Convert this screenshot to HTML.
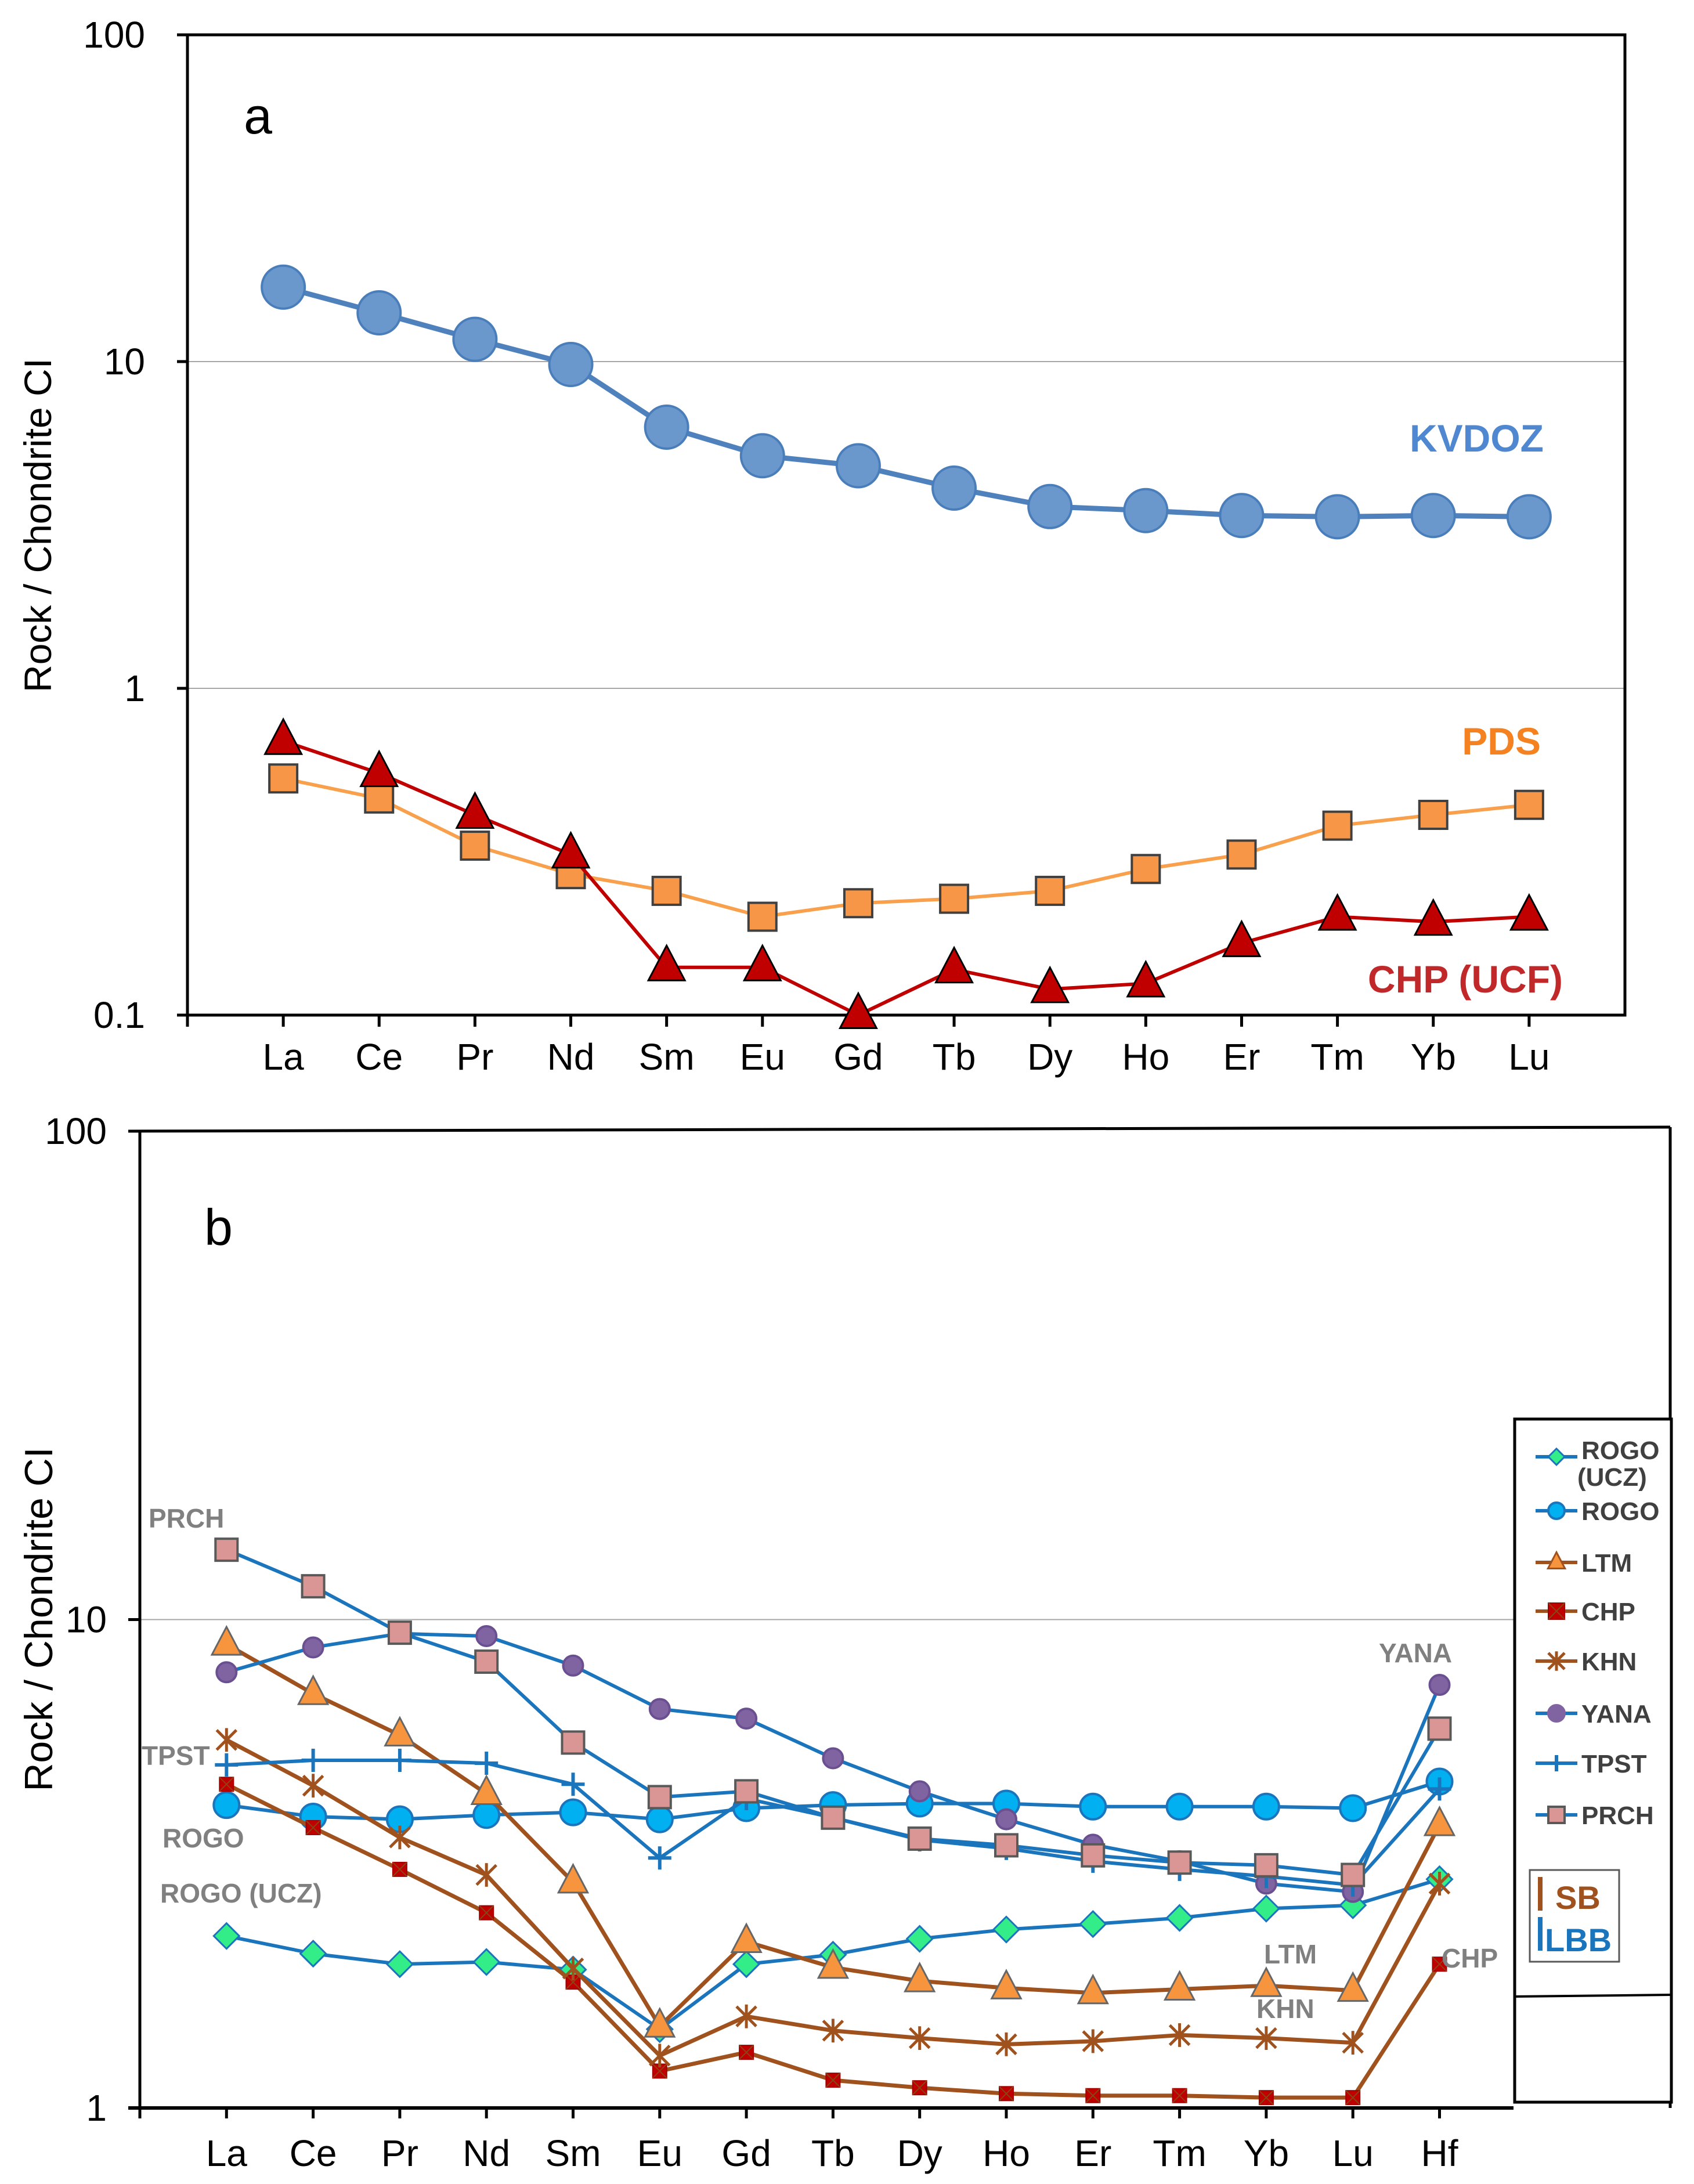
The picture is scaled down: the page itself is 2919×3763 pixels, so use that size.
<!DOCTYPE html>
<html><head><meta charset="utf-8"><style>
html,body{margin:0;padding:0;background:#fff}
svg{display:block}
text{font-family:"Liberation Sans Narrow","Liberation Sans",sans-serif}
.b{font-family:"Liberation Sans",sans-serif;font-weight:bold}
</style></head><body>
<svg id="svg" width="2919" height="3763" viewBox="0 0 2919 3763" xmlns="http://www.w3.org/2000/svg">
<g id="ca"></g>
<g id="cb"></g>
</svg>
<script>
const catsA = ["La","Ce","Pr","Nd","Sm","Eu","Gd","Tb","Dy","Ho","Er","Tm","Yb","Lu"];
const kvdoz = [16.9,14.1,11.7,9.8,6.3,5.15,4.8,4.1,3.6,3.5,3.38,3.35,3.38,3.35];
const pds = [0.53,0.46,0.33,0.27,0.24,0.2,0.22,0.227,0.24,0.28,0.31,0.38,0.41,0.44];
const chpA = [0.69,0.55,0.41,0.31,0.14,0.14,0.1,0.138,0.12,0.125,0.166,0.2,0.193,0.2];
const ticksA = ["0.1","1","10","100"];

const catsB = ["La","Ce","Pr","Nd","Sm","Eu","Gd","Tb","Dy","Ho","Er","Tm","Yb","Lu","Hf"];
const rogoUcz = [2.25,2.07,1.97,1.99,1.92,1.45,1.97,2.06,2.22,2.32,2.38,2.45,2.56,2.6,2.94];
const rogo = [4.17,3.95,3.9,3.98,4.03,3.9,4.11,4.17,4.2,4.2,4.14,4.14,4.14,4.11,4.66];
const ltm = [8.9,7.05,5.8,4.4,2.9,1.47,2.19,1.94,1.82,1.76,1.72,1.75,1.78,1.74,3.8];
const chpB = [4.6,3.75,3.08,2.51,1.81,1.19,1.3,1.14,1.1,1.07,1.06,1.06,1.05,1.05,1.97];
const khn = [5.67,4.57,3.58,3.0,1.93,1.28,1.54,1.44,1.39,1.35,1.37,1.41,1.39,1.36,2.88];
const yana = [7.8,8.77,9.36,9.25,8.05,6.56,6.27,5.2,4.45,3.9,3.46,3.2,2.88,2.77,7.35];
const tpst = [5.04,5.15,5.15,5.08,4.6,3.25,4.3,3.93,3.54,3.4,3.2,3.08,2.98,2.86,4.5];
const prch = [13.9,11.7,9.4,8.2,5.6,4.33,4.45,3.93,3.56,3.45,3.29,3.18,3.14,3.0,5.98];
const ticksB = ["1","10","100"];

const NS="http://www.w3.org/2000/svg";
function el(p,tag,attrs,txt){const e=document.createElementNS(NS,tag);for(const k in attrs)e.setAttribute(k,attrs[k]);if(txt!==undefined)e.textContent=txt;p.appendChild(e);return e;}

function marker(g,type,x,y,fill,stroke,s){
  let m;
  if(type==="circle") m=el(g,"circle",{cx:x,cy:y,r:s,fill:fill,stroke:stroke,"stroke-width":4});
  else if(type==="square") m=el(g,"rect",{x:x-s,y:y-s,width:2*s,height:2*s,fill:fill,stroke:stroke,"stroke-width":4});
  else if(type==="tri") m=el(g,"polygon",{points:`${x},${y-s*1.25} ${x+s*1.05},${y+s*0.75} ${x-s*1.05},${y+s*0.75}`,fill:fill,stroke:stroke,"stroke-width":3});
  else if(type==="diamond") m=el(g,"polygon",{points:`${x},${y-s} ${x+s},${y} ${x},${y+s} ${x-s},${y}`,fill:fill,stroke:stroke,"stroke-width":3});
  else if(type==="plus"){m=el(g,"path",{d:`M${x-s},${y}H${x+s}M${x},${y-s}V${y+s}`,stroke:stroke,"stroke-width":6,fill:"none"});}
  else if(type==="star"){m=el(g,"path",{d:`M${x-s},${y-s}L${x+s},${y+s}M${x-s},${y+s}L${x+s},${y-s}M${x},${y-s*1.2}V${y+s*1.2}`,stroke:stroke,"stroke-width":5,fill:"none"});}
  else if(type==="xsq"){m=el(g,"rect",{x:x-s,y:y-s,width:2*s,height:2*s,fill:fill,stroke:"#a00000","stroke-width":2});el(g,"path",{d:`M${x-s},${y-s}L${x+s},${y+s}M${x-s},${y+s}L${x+s},${y-s}`,stroke:"#8b4513","stroke-width":2});}
  
  
}

function series(g,cats,vals,xf,yf,line,lw,type,fill,stroke,s,name){
  const sg=el(g,"g",{});
  
  
  const pts=vals.map((v,i)=>xf(i)+","+yf(v)).join(" ");
  el(sg,"polyline",{points:pts,fill:"none",stroke:line,"stroke-width":lw,"stroke-linejoin":"round"});
  vals.forEach((v,i)=>marker(sg,type,xf(i),yf(v),fill,stroke,s));
}

/* ---------- Chart A ---------- */
(function(){
  const g=document.getElementById("ca");
  const L=323,R=2800,T=60,B=1749, step=(R-L)/15;
  const xf=i=>L+(i+1)*step;
  const dec=(B-T)/3;
  const yf=v=>B-(Math.log10(v)+1)*dec;
  [1,10].forEach(v=>{const l=el(g,"line",{x1:L,x2:R,y1:yf(v),y2:yf(v),stroke:"#a6a6a6","stroke-width":2});});
  el(g,"rect",{x:L,y:T,width:R-L,height:B-T,fill:"none",stroke:"#000","stroke-width":5});
  ticksA.forEach((t,i)=>{const y=B-i*dec;
    el(g,"line",{x1:L-18,x2:L,y1:y,y2:y,stroke:"#000","stroke-width":5});
    const tx=el(g,"text",{x:250,y:y+22,"text-anchor":"end","font-size":64,fill:"#000"},t);
    });
  catsA.forEach((c,i)=>{
    el(g,"line",{x1:xf(i),x2:xf(i),y1:B,y2:B+20,stroke:"#000","stroke-width":5});
    const tx=el(g,"text",{x:xf(i),y:1843,"text-anchor":"middle","font-size":64,fill:"#000"},c);
    });
  el(g,"line",{x1:L,x2:L,y1:B,y2:B+20,stroke:"#000","stroke-width":5});
  const yt=el(g,"text",{x:0,y:0,transform:"translate(88,905) rotate(-90)","text-anchor":"middle","font-size":66,fill:"#000",class:"b",style:"font-weight:normal"},"Rock / Chondrite CI");
  
  const pl=el(g,"text",{x:420,y:230,"font-size":88,fill:"#000"},"a");
  

  series(g,catsA,kvdoz,xf,yf,"#4f81bd",9,"circle","#6a98cc","#4a7ebb",37,"series-kvdoz");
  series(g,catsA,pds,xf,yf,"#f9a04c",6,"square","#f79646","#404040",24,"series-pds");
  series(g,catsA,chpA,xf,yf,"#c00000",6,"tri","#c00000","#000",30,"series-chp-ucf");

  [["KVDOZ",2660,778,"#4f88d0"],["PDS",2655,1300,"#f58220"],["CHP (UCF)",2693,1710,"#c0282a"]].forEach(a=>{
    const t=el(g,"text",{x:a[1],y:a[2],"text-anchor":"end","font-size":66,fill:a[3],class:"b"},a[0]);
    });
})();

/* ---------- Chart B ---------- */
(function(){
  const g=document.getElementById("cb");
  const L=241,R=2608,T=1949,B=3632,step=149.3;
  const xf=i=>L+(i+1)*step;
  const dec=(B-T)/2;
  const yf=v=>B-Math.log10(v)*dec;
  const gl=el(g,"line",{x1:L,x2:R,y1:yf(10),y2:yf(10),stroke:"#a6a6a6","stroke-width":2});
  
  el(g,"line",{x1:L,x2:L,y1:T,y2:B,stroke:"#000","stroke-width":5});
  el(g,"line",{x1:L-20,x2:2608,y1:B,y2:B,stroke:"#000","stroke-width":6});
  el(g,"line",{x1:L-20,x2:2878,y1:T,y2:1942,stroke:"#000","stroke-width":5});
  el(g,"line",{x1:2878,x2:2878,y1:1942,y2:3632,stroke:"#000","stroke-width":5});
  const lg=el(g,"g",{});
  
  el(lg,"rect",{x:2610,y:2445,width:270,height:1177,fill:"#fff",stroke:"#000","stroke-width":5});
  el(lg,"line",{x1:2610,x2:2880,y1:3440,y2:3437,stroke:"#000","stroke-width":4});
  const leg=[["ROGO (UCZ)","diamond","#1a75bc","#33ee88","#1a75bc",2510],["ROGO","circle","#1a75bc","#00b0f0","#1a75bc",2603],
    ["LTM","tri","#a0521e","#f7943e","#a0521e",2692],["CHP","xsq","#a0521e","#c00000","#a0521e",2776],
    ["KHN","star","#a0521e","none","#a0521e",2862],["YANA","circle","#1a75bc","#8064a2","#8064a2",2952],
    ["TPST","plus","#1a75bc","none","#1a75bc",3038],["PRCH","square","#1a75bc","#d99694","#595959",3127]];
  leg.forEach(e=>{
    const eg=el(lg,"g",{});
    
    el(eg,"line",{x1:2646,x2:2718,y1:e[5],y2:e[5],stroke:e[2],"stroke-width":6});
    marker(eg,e[1],2682,e[5],e[3],e[4],14);
    if(e[0]==="ROGO (UCZ)"){
      el(eg,"text",{x:2725,y:e[5]+4,"font-size":44,fill:"#404040",class:"b"},"ROGO");
      el(eg,"text",{x:2718,y:e[5]+50,"font-size":44,fill:"#404040",class:"b"},"(UCZ)");
    } else el(eg,"text",{x:2725,y:e[5]+16,"font-size":44,fill:"#404040",class:"b"},e[0]);
  });
  el(lg,"rect",{x:2636,y:3222,width:154,height:158,fill:"none",stroke:"#595959","stroke-width":3});
  el(lg,"rect",{x:2650,y:3234,width:8,height:58,fill:"#a0521e"});
  el(lg,"text",{x:2680,y:3289,"font-size":56,fill:"#a0521e",class:"b"},"SB");
  el(lg,"rect",{x:2650,y:3303,width:8,height:58,fill:"#1a75bc"});
  el(lg,"text",{x:2662,y:3362,"font-size":56,fill:"#1a75bc",class:"b"},"LBB");

  ticksB.forEach((t,i)=>{const y=B-i*dec;
    el(g,"line",{x1:L-20,x2:L,y1:y,y2:y,stroke:"#000","stroke-width":5});
    const tx=el(g,"text",{x:184,y:y+22,"text-anchor":"end","font-size":64,fill:"#000"},t);
    });
  catsB.forEach((c,i)=>{
    el(g,"line",{x1:xf(i),x2:xf(i),y1:B,y2:B+18,stroke:"#000","stroke-width":5});
    const tx=el(g,"text",{x:xf(i),y:3732,"text-anchor":"middle","font-size":64,fill:"#000"},c);
    });
  el(g,"line",{x1:L,x2:L,y1:B,y2:B+18,stroke:"#000","stroke-width":5});
  const yt=el(g,"text",{x:0,y:0,transform:"translate(90,2790) rotate(-90)","text-anchor":"middle","font-size":68,fill:"#000",class:"b",style:"font-weight:normal"},"Rock / Chondrite CI");
  
  const pl=el(g,"text",{x:352,y:2145,"font-size":88,fill:"#000"},"b");
  

  const blue="#1a75bc", brown="#a0521e";
  series(g,catsB,rogoUcz,xf,yf,blue,6,"diamond","#33ee88",blue,22,"series-rogo-ucz");
  series(g,catsB,rogo,xf,yf,blue,6,"circle","#00b0f0",blue,22,"series-rogo");
  series(g,catsB,ltm,xf,yf,brown,7,"tri","#f7943e","#666",24,"series-ltm");
  series(g,catsB,chpB,xf,yf,brown,7,"xsq","#c00000",brown,12,"series-chp");
  series(g,catsB,khn,xf,yf,brown,7,"star","none",brown,17,"series-khn");
  series(g,catsB,yana,xf,yf,blue,6,"circle","#8064a2","#6a5090",17,"series-yana");
  series(g,catsB,tpst,xf,yf,blue,6,"plus","none",blue,20,"series-tpst");
  series(g,catsB,prch,xf,yf,blue,6,"square","#d99694","#595959",19,"series-prch");

  [["PRCH",256,2632],["TPST",244,3041],["ROGO",280,3183],["ROGO  (UCZ)",276,3278],["YANA",2376,2864],["LTM",2178,3383],["KHN",2165,3477],["CHP",2484,3390]].forEach(a=>{
    const t=el(g,"text",{x:a[1],y:a[2],"font-size":46,fill:"#808080",class:"b","xml:space":"preserve"},a[0]);
    });
})();
</script>
</body></html>
